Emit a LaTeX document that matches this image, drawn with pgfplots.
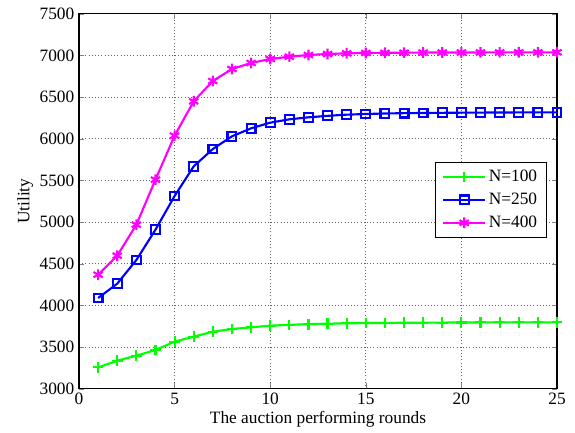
\documentclass[border=0pt]{standalone}
\usepackage{fontspec}
\setmainfont{Liberation Serif}
\usepackage{pgfplots}
\pgfplotsset{compat=1.18}
\definecolor{mgreen}{RGB}{0,255,0}
\definecolor{mblue}{RGB}{0,0,255}
\definecolor{mmag}{RGB}{255,0,255}

\begin{document}
\begin{tikzpicture}
\useasboundingbox (-59.25pt,-33pt) rectangle (372pt,291.5pt);
\begin{axis}[
    scale only axis,
    width=358.5pt, height=281.25pt,
    at={(0,0)}, anchor=south west,
    xmin=0, xmax=25, ymin=3000, ymax=7500,
    xtick={0,5,...,25},
    xticklabels={0,5,10,15,20,25},
    ytick={3000,3500,...,7500},
    yticklabels={3000,3500,4000,4500,5000,5500,6000,6500,7000,7500},
    tick align=inside,
    tick pos=both,
    major tick length=4pt,
    grid=major,
    major grid style={dotted, black!60, line width=0.5pt},
    axis line style={line width=0.8pt},
    tick label style={font=\fontsize{13}{15}\selectfont},
    label style={font=\fontsize{13}{15}\selectfont},
    xlabel={The auction performing rounds},
    ylabel={Utility},
    xlabel style={yshift=2pt},
    ylabel style={yshift=-2pt},
    legend style={at={(0.979,0.605)}, anchor=north east,
        font=\fontsize{13}{15}\selectfont, draw=black, line width=0.8pt,
        row sep=3pt, inner xsep=5pt, inner ysep=4pt},
    legend cell align=left,
    legend image code/.code={%
        \draw[mark repeat=2,mark phase=2] plot coordinates {(0cm,0cm) (0.55cm,0cm) (1.1cm,0cm)};},
    every axis plot/.append style={line width=1.6pt},
]
\addplot[mgreen, mark=+, mark size=4pt] coordinates {
    (1,3255) (2,3336) (3,3396) (4,3464) (5,3564) (6,3624) (7,3684) (8,3716)
    (9,3736) (10,3756) (11,3766) (12,3774) (13,3780) (14,3784) (15,3787)
    (16,3789) (17,3791) (18,3792) (19,3793) (20,3794) (21,3795) (22,3795)
    (23,3796) (24,3796) (25,3796)
};
\addlegendentry{N=100}
\addplot[mblue, mark=square, mark size=3.3pt] coordinates {
    (1,4088) (2,4260) (3,4544) (4,4908) (5,5312) (6,5668) (7,5876) (8,6028)
    (9,6124) (10,6192) (11,6232) (12,6256) (13,6274) (14,6288) (15,6296)
    (16,6302) (17,6306) (18,6308) (19,6310) (20,6312) (21,6313) (22,6314)
    (23,6315) (24,6315) (25,6316)
};
\addlegendentry{N=250}
\addplot[mmag, mark=asterisk, mark size=4pt] coordinates {
    (1,4368) (2,4596) (3,4968) (4,5508) (5,6036) (6,6448) (7,6692) (8,6836)
    (9,6908) (10,6956) (11,6984) (12,7004) (13,7016) (14,7024) (15,7028)
    (16,7030) (17,7032) (18,7033) (19,7034) (20,7034) (21,7035) (22,7035)
    (23,7036) (24,7036) (25,7036)
};
\addlegendentry{N=400}
\end{axis}
\end{tikzpicture}
\end{document}
